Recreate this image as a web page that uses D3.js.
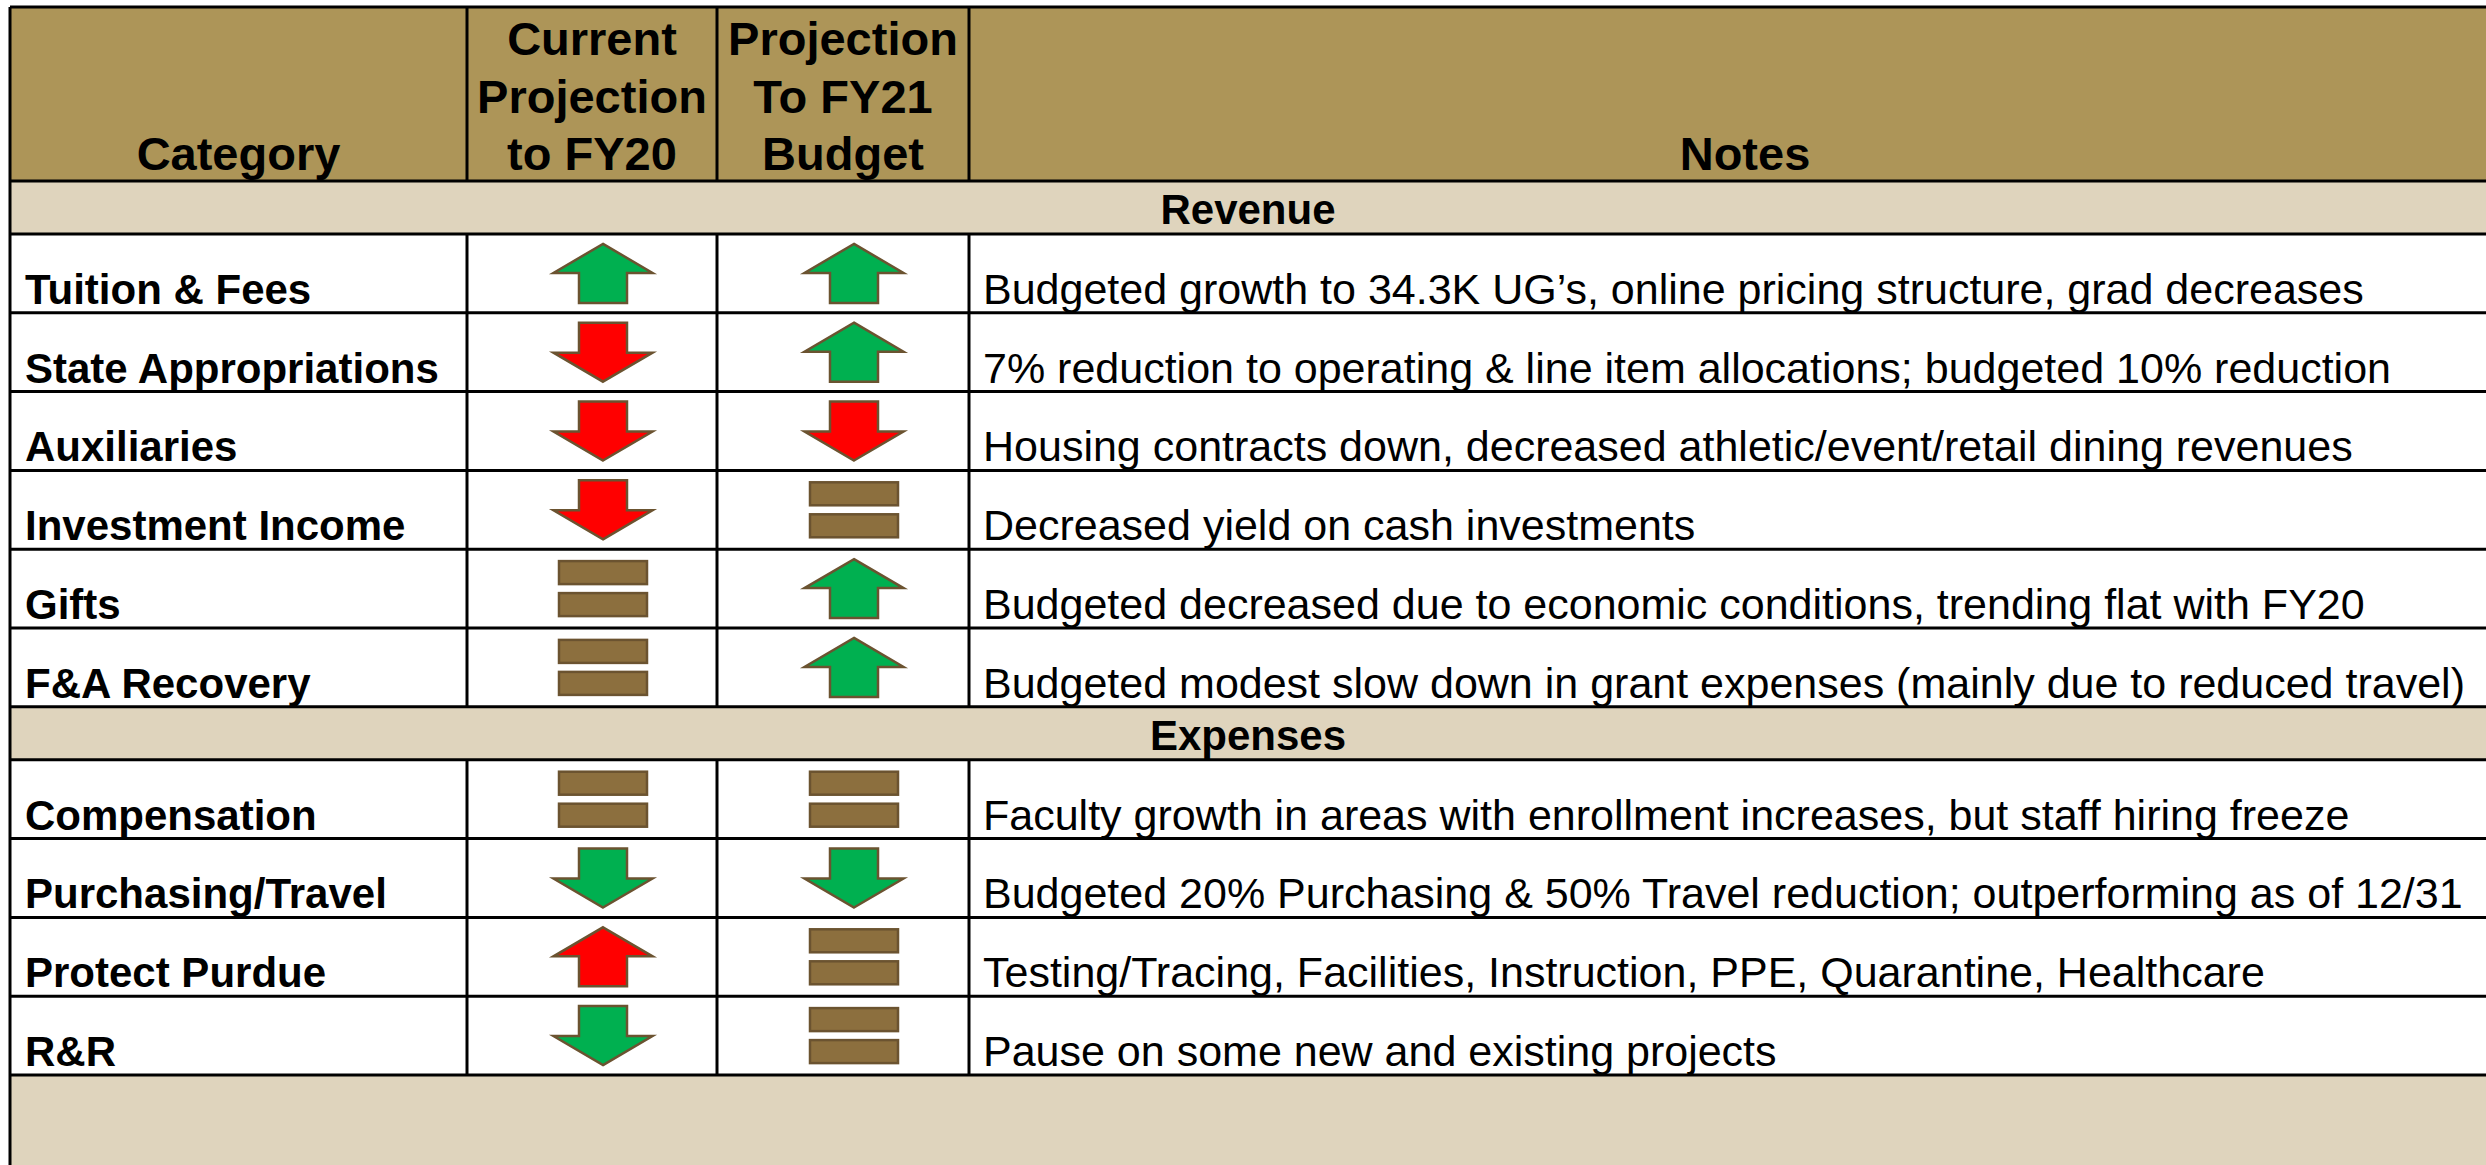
<!DOCTYPE html>
<html>
<head>
<meta charset="utf-8">
<script src="https://cdn.jsdelivr.net/npm/d3@7"></script>
<style>
  html, body { margin: 0; padding: 0; background: #fff; }
  svg { display: block; font-family: "Liberation Sans", Arial, sans-serif; }
</style>
</head>
<body>
<div id="chart"></div>
<script>
// --- data ---
const headers = [
  ['Category'],
  ['Current', 'Projection', 'to FY20'],
  ['Projection', 'To FY21', 'Budget'],
  ['Notes']
];
const sections = ['Revenue', 'Expenses'];
const sectionCounts = [6, 4];
const categories = [
  'Tuition & Fees', 'State Appropriations', 'Auxiliaries', 'Investment Income', 'Gifts', 'F&A Recovery',
  'Compensation', 'Purchasing/Travel', 'Protect Purdue', 'R&R'
];
// direction of each projection: up / down / flat
const currentDir = ['up', 'down', 'down', 'down', 'flat', 'flat', 'flat', 'down', 'up', 'down'];
const budgetDir  = ['up', 'up', 'down', 'flat', 'up', 'up', 'flat', 'down', 'flat', 'flat'];
// whether the change is good (green) or bad (red)
const currentGood = [true, false, false, false, null, null, null, true, false, true];
const budgetGood  = [true, true, false, null, true, true, null, true, null, null];
const notes = [
  'Budgeted growth to 34.3K UG\u2019s, online pricing structure, grad decreases',
  '7% reduction to operating & line item allocations; budgeted 10% reduction',
  'Housing contracts down, decreased athletic/event/retail dining revenues',
  'Decreased yield on cash investments',
  'Budgeted decreased due to economic conditions, trending flat with FY20',
  'Budgeted modest slow down in grant expenses (mainly due to reduced travel)',
  'Faculty growth in areas with enrollment increases, but staff hiring freeze',
  'Budgeted 20% Purchasing & 50% Travel reduction; outperforming as of 12/31',
  'Testing/Tracing, Facilities, Instruction, PPE, Quarantine, Healthcare',
  'Pause on some new and existing projects'
];

// --- layout ---
const W = 2486, H = 1165;
const tableLeft = 10, tableTop = 7, headerBottom = 181;
const bandH = 53, rowH = 78.8;
const colEdges = [tableLeft, 467, 717, 969, 2521];
const GOLD = '#AD9558', TAN = '#DFD4BD';
const GREEN = '#00B050', RED = '#FF0000', BROWN = '#8C6F3E', ICON_STROKE = '#6B5330';

const svg = d3.select('#chart').append('svg')
  .attr('width', W).attr('height', H)
  .attr('viewBox', [0, 0, W, H]);

// rows: band row for each section followed by its items
const rows = [];
let idx = 0;
sections.forEach((s, si) => {
  rows.push({ type: 'band', label: s, h: bandH });
  for (let k = 0; k < sectionCounts[si]; k++) rows.push({ type: 'item', i: idx++, h: rowH });
});
const ends = d3.cumsum(rows, d => d.h);
rows.forEach((r, k) => { r.y1 = headerBottom + ends[k]; r.y0 = r.y1 - r.h; });
const tableBottom = rows[rows.length - 1].y1;

const colX = d3.scaleOrdinal().domain(d3.range(4)).range(colEdges.slice(0, 4));
const colW = k => colEdges[k + 1] - colEdges[k];
const colMid = k => colX(k) + colW(k) / 2;

// backgrounds
svg.append('rect').attr('x', tableLeft).attr('y', tableTop).attr('width', W - tableLeft).attr('height', headerBottom - tableTop).attr('fill', GOLD);
svg.append('g').selectAll('rect').data(rows.filter(r => r.type === 'band')).join('rect')
  .attr('x', tableLeft).attr('y', d => d.y0).attr('width', W - tableLeft).attr('height', d => d.h).attr('fill', TAN);
svg.append('rect').attr('x', tableLeft).attr('y', tableBottom).attr('width', W - tableLeft).attr('height', H - tableBottom).attr('fill', TAN);

// header text
const hdr = svg.append('g').attr('font-weight', 'bold').attr('font-size', 47).attr('fill', '#000').attr('text-anchor', 'middle');
headers.forEach((lines, k) => {
  lines.forEach((t, j) => {
    hdr.append('text')
      .attr('x', colMid(k))
      .attr('y', 170 - (lines.length - 1 - j) * 57.5)
      .text(t);
  });
});

// band labels
svg.append('g').selectAll('text').data(rows.filter(r => r.type === 'band')).join('text')
  .attr('x', (tableLeft + W) / 2).attr('y', d => d.y1 - 10)
  .attr('text-anchor', 'middle').attr('font-weight', 'bold').attr('font-size', 42)
  .text(d => d.label);

const items = rows.filter(r => r.type === 'item');

// category + notes
svg.append('g').selectAll('text').data(items).join('text')
  .attr('x', colX(0) + 15).attr('y', d => d.y1 - 9)
  .attr('font-weight', 'bold').attr('font-size', 42)
  .text(d => categories[d.i]);
svg.append('g').selectAll('text').data(items).join('text')
  .attr('x', colX(3) + 14).attr('y', d => d.y1 - 9)
  .attr('font-size', 43)
  .text(d => notes[d.i]);

// icons
const upArrow = 'M0,-29.5 L49.5,-0.5 L24,-0.5 L24,29.5 L-24,29.5 L-24,-0.5 L-49.5,-0.5 Z';
const downArrow = 'M0,29.5 L49.5,0.5 L24,0.5 L24,-29.5 L-24,-29.5 L-24,0.5 L-49.5,0.5 Z';
function drawIcon(g, dir, good) {
  if (dir === 'flat') {
    [-27.5, 4.5].forEach(y => g.append('rect')
      .attr('x', -44).attr('y', y).attr('width', 88).attr('height', 23)
      .attr('fill', BROWN).attr('stroke', ICON_STROKE).attr('stroke-width', 2.5));
  } else {
    g.append('path').attr('d', dir === 'up' ? upArrow : downArrow)
      .attr('fill', good ? GREEN : RED).attr('stroke', ICON_STROKE).attr('stroke-width', 2.5)
      .attr('stroke-linejoin', 'miter');
  }
}
[[1, currentDir, currentGood], [2, budgetDir, budgetGood]].forEach(([k, dirs, goods]) => {
  items.forEach(d => {
    const g = svg.append('g').attr('transform', `translate(${colMid(k) + 11},${(d.y0 + d.y1) / 2})`);
    drawIcon(g, dirs[d.i], goods[d.i]);
  });
});

// grid lines
const grid = svg.append('g').attr('stroke', '#000').attr('stroke-width', 3);
const hLines = [tableTop, headerBottom].concat(rows.map(r => r.y1));
grid.selectAll('line.h').data(hLines).join('line').attr('class', 'h')
  .attr('x1', tableLeft).attr('x2', W).attr('y1', d => d).attr('y2', d => d);
// left border runs full height
grid.append('line').attr('x1', tableLeft).attr('x2', tableLeft).attr('y1', tableTop).attr('y2', H);
// column dividers through header and item rows
const vSegs = [[tableTop, headerBottom]].concat(items.map(r => [r.y0, r.y1]));
[1, 2, 3].forEach(k => {
  grid.append('g').selectAll('line').data(vSegs).join('line')
    .attr('x1', colX(k)).attr('x2', colX(k)).attr('y1', d => d[0]).attr('y2', d => d[1]);
});
</script>
</body>
</html>
